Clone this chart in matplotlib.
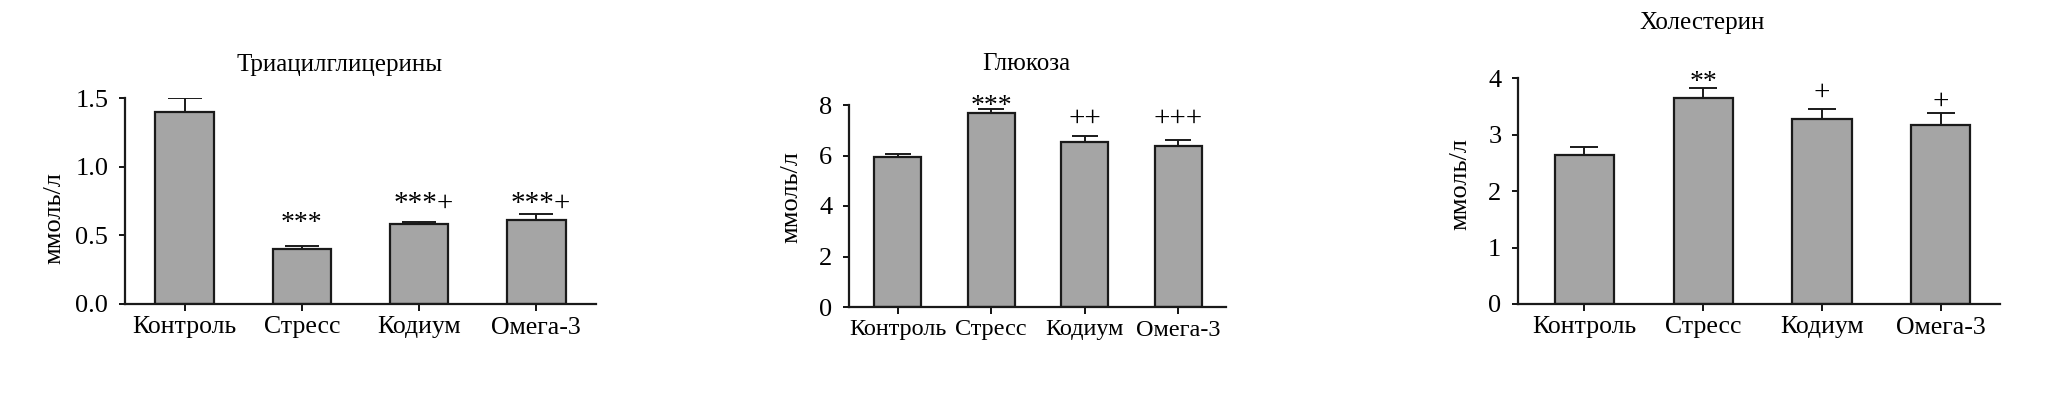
# Биохимия крови: триацилглицерины, глюкоза, холестерин
import numpy as np
import matplotlib.pyplot as plt

plt.rcParams['font.family'] = ['Liberation Serif', 'DejaVu Serif']

groups = ['Контроль', 'Стресс', 'Кодиум', 'Омега-3']

tag_vals = [1.40, 0.40, 0.58, 0.61]
tag_err = [0.10, 0.02, 0.02, 0.045]
tag_marks = ['', '***', '***+', '***+']
tag_mark_y = [0, 0.648, 0.728, 0.728]

glu_vals = [5.93, 7.70, 6.53, 6.39]
glu_err = [0.13, 0.14, 0.25, 0.23]
glu_marks = ['', '***', '++', '+++']
glu_mark_y = [0, 8.30, 7.46, 7.46]

chol_vals = [2.64, 3.65, 3.28, 3.18]
chol_err = [0.14, 0.18, 0.18, 0.20]
chol_marks = ['', '**', '+', '+']
chol_mark_y = [0, 4.08, 3.75, 3.59]

W, H = 2066, 413
fig = plt.figure(figsize=(W / 100, H / 100), dpi=100)

bar_color = '#a5a5a5'


def px(x, y):
    return x / W, 1 - y / H


def bar_panel(rect, vals, err, ylim, yticks, ytl, xlim, capsize, xfs=18.5):
    ax = fig.add_axes(rect)
    x = np.arange(len(vals))
    ax.bar(x, vals, width=0.5, color=bar_color, edgecolor='#1a1a1a',
           linewidth=1.6, zorder=2)
    ax.errorbar(x, vals, yerr=[np.zeros(len(err)), err], fmt='none',
                ecolor='#1a1a1a', elinewidth=1.4, capsize=capsize,
                capthick=1.4, zorder=1)
    ax.set_xlim(*xlim)
    ax.set_ylim(*ylim)
    ax.set_yticks(yticks)
    ax.set_yticklabels(ytl, fontsize=19)
    ax.set_xticks(x)
    ax.set_xticklabels(groups, fontsize=xfs)
    for s in ['top', 'right']:
        ax.spines[s].set_visible(False)
    for s in ['left', 'bottom']:
        ax.spines[s].set_linewidth(1.6)
        ax.spines[s].set_color('#1a1a1a')
    ax.tick_params(axis='y', direction='out', length=4, width=1.3, pad=8)
    ax.tick_params(axis='x', direction='out', length=5, width=1.3, pad=4)
    return ax, x


def put_marks(ax, marks, ys, dx=0):
    # y - центр значка; смещаем к базовой линии
    for i, (m, y) in enumerate(zip(marks, ys)):
        if not m:
            continue
        if '+' in m:
            fs = 21
            off = -0.25 * fs
        else:
            fs = 20
            off = -0.55 * fs
        shift = dx if ('*' in m and '+' in m) else 0
        ax.annotate(m, (i, y), xytext=(shift, off), textcoords='offset points',
                    ha='center', va='baseline', fontsize=fs,
                    annotation_clip=False)


# Триацилглицерины
ax1, x = bar_panel([125 / W, 1 - 304 / H, 471 / W, 206 / H], tag_vals, tag_err,
                   (0, 1.5), [0, 0.5, 1.0, 1.5], ['0.0', '0.5', '1.0', '1.5'],
                   (-0.51, 3.51), 12)
put_marks(ax1, tag_marks, tag_mark_y, dx=3)

# Глюкоза
ax2, x = bar_panel([849 / W, 1 - 307 / H, 377 / W, 202 / H], glu_vals, glu_err,
                   (0, 8), [0, 2, 4, 6, 8], ['0', '2', '4', '6', '8'],
                   (-0.52, 3.51), 9.5, xfs=17.5)
put_marks(ax2, glu_marks, glu_mark_y)

# Холестерин
ax3, x = bar_panel([1518 / W, 1 - 304 / H, 482 / W, 225.7 / H], chol_vals,
                   chol_err, (0, 4), [0, 1, 2, 3, 4], ['0', '1', '2', '3', '4'],
                   (-0.56, 3.5), 10)
put_marks(ax3, chol_marks, chol_mark_y)

# заголовки и подписи осей
fig.text(*px(340, 65), 'Триацилглицерины', ha='center', va='center', fontsize=18)
fig.text(*px(1026, 64), 'Глюкоза', ha='center', va='center', fontsize=18)
fig.text(*px(1702, 23), 'Холестерин', ha='center', va='center', fontsize=18)

for (lx, ly) in [(54, 218), (791, 197), (1460, 184)]:
    fig.text(*px(lx, ly), 'ммоль/л', rotation=90, ha='center', va='center',
             fontsize=19)

fig.savefig('out.png', dpi=100, facecolor='white')
